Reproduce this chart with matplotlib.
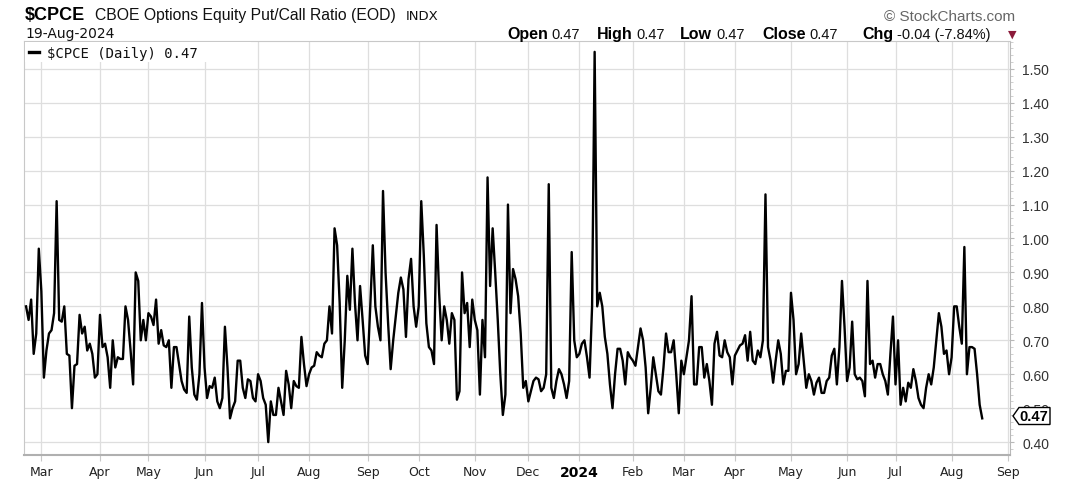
import numpy as np
import pandas as pd
import matplotlib
matplotlib.use('Agg')
import matplotlib.pyplot as plt
from matplotlib.patches import Polygon, Rectangle
from matplotlib.lines import Line2D
from matplotlib.ticker import MultipleLocator

plt.rcParams['font.family'] = ['Liberation Sans', 'DejaVu Sans']

# daily $CPCE closes, one list per month
feb_23 = [0.80, 0.76, 0.82, 0.66, 0.72, 0.97]
mar_23 = [0.845, 0.59, 0.67, 0.72, 0.73, 0.78, 1.11, 0.76, 0.755, 0.80, 0.66, 0.655,
          0.50, 0.625, 0.63, 0.775, 0.72, 0.74, 0.67, 0.69, 0.66, 0.59, 0.60]
apr_23 = [0.775, 0.68, 0.69, 0.65, 0.56, 0.70, 0.62, 0.65, 0.645, 0.645, 0.80, 0.76,
          0.67, 0.57, 0.90, 0.875, 0.70, 0.76, 0.70]
may_23 = [0.78, 0.77, 0.745, 0.82, 0.69, 0.73, 0.685, 0.68, 0.70, 0.56, 0.68, 0.68,
          0.63, 0.58, 0.555, 0.545, 0.77, 0.62, 0.54, 0.525, 0.60, 0.81]
jun_23 = [0.62, 0.53, 0.565, 0.56, 0.59, 0.52, 0.50, 0.53, 0.74, 0.62, 0.47, 0.50,
          0.52, 0.64, 0.64, 0.56, 0.53, 0.585, 0.58, 0.53, 0.52]
jul_23 = [0.60, 0.58, 0.53, 0.51, 0.40, 0.52, 0.48, 0.48, 0.56, 0.52, 0.48, 0.61,
          0.57, 0.50, 0.58, 0.565, 0.56, 0.71, 0.63, 0.565]
aug_23 = [0.60, 0.62, 0.625, 0.665, 0.655, 0.65, 0.69, 0.70, 0.80, 0.72, 1.03, 0.98,
          0.81, 0.56, 0.70, 0.89, 0.79, 0.97, 0.81, 0.70, 0.86, 0.76, 0.655]
sep_23 = [0.63, 0.80, 0.98, 0.80, 0.74, 0.70, 1.14, 0.90, 0.75, 0.615, 0.70, 0.77,
          0.84, 0.885, 0.85, 0.71, 0.88, 0.94, 0.80, 0.74]
oct_23 = [0.80, 1.11, 0.95, 0.75, 0.68, 0.67, 0.63, 1.04, 0.84, 0.70, 0.80, 0.76,
          0.69, 0.78, 0.76, 0.525, 0.55, 0.90, 0.78, 0.81, 0.68, 0.82]
nov_23 = [0.76, 0.73, 0.54, 0.76, 0.65, 1.18, 0.86, 1.03, 0.90, 0.76, 0.60, 0.48,
          0.54, 1.10, 0.78, 0.91, 0.88, 0.83, 0.72, 0.56, 0.58]
dec_23 = [0.52, 0.55, 0.58, 0.59, 0.585, 0.55, 0.56, 0.60, 1.16, 0.56, 0.53, 0.58,
          0.615, 0.60, 0.57, 0.53, 0.58, 0.96, 0.70, 0.65]
jan_24 = [0.66, 0.69, 0.70, 0.65, 0.59, 0.80, 1.55, 0.80, 0.84, 0.80, 0.71, 0.66,
          0.57, 0.50, 0.60, 0.675, 0.675, 0.64, 0.57, 0.665, 0.65]
feb_24 = [0.64, 0.625, 0.68, 0.735, 0.70, 0.62, 0.485, 0.56, 0.65, 0.60, 0.55, 0.54,
          0.62, 0.72, 0.665, 0.665, 0.70, 0.60, 0.485, 0.64]
mar_24 = [0.60, 0.65, 0.70, 0.83, 0.57, 0.57, 0.68, 0.68, 0.59, 0.63, 0.58, 0.51,
          0.69, 0.725, 0.655, 0.65, 0.70, 0.665, 0.65, 0.57]
apr_24 = [0.655, 0.67, 0.685, 0.69, 0.715, 0.64, 0.725, 0.64, 0.63, 0.67, 0.65, 0.70,
          1.13, 0.68, 0.64, 0.575, 0.64, 0.70, 0.66, 0.57, 0.61, 0.61]
may_24 = [0.84, 0.76, 0.60, 0.63, 0.72, 0.64, 0.56, 0.60, 0.58, 0.54, 0.575, 0.59,
          0.545, 0.545, 0.58, 0.59, 0.655, 0.675, 0.57, 0.68, 0.875, 0.74]
jun_24 = [0.58, 0.62, 0.755, 0.60, 0.585, 0.59, 0.58, 0.535, 0.875, 0.63, 0.64, 0.59,
          0.63, 0.63, 0.60, 0.58, 0.54, 0.66, 0.77]
jul_24 = [0.57, 0.70, 0.51, 0.56, 0.52, 0.575, 0.56, 0.615, 0.58, 0.53, 0.51, 0.50,
          0.56, 0.60, 0.57, 0.62, 0.70, 0.78, 0.74, 0.66, 0.67, 0.60]
aug_24 = [0.65, 0.80, 0.80, 0.74, 0.69, 0.975, 0.60, 0.68, 0.68, 0.675, 0.60, 0.51, 0.47]

values = (feb_23 + mar_23 + apr_23 + may_23 + jun_23 + jul_23 + aug_23 + sep_23 +
          oct_23 + nov_23 + dec_23 + jan_24 + feb_24 + mar_24 + apr_24 + may_24 +
          jun_24 + jul_24 + aug_24)

y_ticks = [0.40, 0.50, 0.60, 0.70, 0.80, 0.90, 1.00, 1.10, 1.20, 1.30, 1.40, 1.50]
last_value = 0.47
stat_names = ['Open', 'High', 'Low', 'Close', 'Chg']
stat_values = ['0.47', '0.47', '0.47', '0.47', '-0.04 (-7.84%)']

# NYSE trading calendar (the chart spaces points by trading day)
holidays = ['2023-04-07', '2023-05-29', '2023-06-19', '2023-07-04', '2023-09-04',
            '2023-11-23', '2023-12-25', '2024-01-01', '2024-01-15', '2024-02-19',
            '2024-03-29', '2024-05-27', '2024-06-19', '2024-07-04', '2024-09-02']
days = pd.bdate_range('2023-02-21', '2024-09-03', freq='C', holidays=holidays)

tick_pos, tick_lab = [], []
for i in range(1, len(days)):
    if days[i].month != days[i - 1].month:
        tick_pos.append(i)
        tick_lab.append(str(days[i].year) if days[i].month == 1 else days[i].strftime('%b'))

W, H = 1079, 481


def fx(px):
    return px / W


def fy(py):
    return 1 - py / H


fig = plt.figure(figsize=(W / 100, H / 100), dpi=100)
ax = fig.add_axes([fx(24), 25 / H, 986 / W, 414 / H])

x = np.arange(len(values))
ax.plot(x, values, color='black', lw=1.7, solid_joinstyle='round', zorder=3)

ax.set_xlim(-0.8, 385.9)
ax.set_ylim(0.362, 1.582)

ax.yaxis.tick_right()
ax.set_yticks(y_ticks)
ax.set_yticklabels(['%.2f' % v for v in y_ticks])
ax.yaxis.set_minor_locator(MultipleLocator(0.02))
ax.tick_params(axis='y', which='major', length=3, color='#b8b8b8', labelsize=10,
               labelcolor='#333333', pad=6)
ax.tick_params(axis='y', which='minor', length=2, color='#c8c8c8')

ax.set_xticks(tick_pos)
ax.set_xticklabels(tick_lab, family='DejaVu Sans')
ax.tick_params(axis='x', length=4, color='#c8c8c8', labelsize=9, labelcolor='#222222', pad=3)
for lab in ax.get_xticklabels():
    if lab.get_text() == '2024':
        lab.set_fontweight('bold')
        lab.set_fontsize(10)
        lab.set_color('black')

ax.grid(True, color='#dedede', lw=0.9)
ax.set_axisbelow(True)
for side in ['top', 'left']:
    ax.spines[side].set_color('#c8c8c8')
ax.spines['right'].set_color('#b8b8b8')
ax.spines['bottom'].set_color('#b0b0b0')
ax.spines['bottom'].set_linewidth(1.5)

# legend: white block over the top-left gridlines
ax.add_patch(Rectangle((fx(24.5), fy(63)), 226 / W, 20.5 / H, transform=fig.transFigure,
                       facecolor='white', edgecolor='none', zorder=4))
fig.add_artist(Line2D([fx(29), fx(39)], [fy(53), fy(53)], color='black', lw=2.4))
fig.text(fx(47), fy(58), '$CPCE (Daily) 0.47', fontsize=10, family='DejaVu Sans Mono',
         color='#111111', va='baseline', zorder=5)

# last value tag on the price axis
ty = fy(417)
tag = Polygon([(fx(1013), ty), (fx(1019), ty + 8.5 / H), (fx(1050), ty + 8.5 / H),
               (fx(1050), ty - 8.5 / H), (fx(1019), ty - 8.5 / H)], closed=True,
              transform=fig.transFigure, facecolor='white', edgecolor='black', lw=1.0,
              zorder=6, clip_on=False)
fig.patches.append(tag)
fig.text(fx(1034), ty, '%.2f' % last_value, fontsize=10.5, fontweight='bold', ha='center',
         va='center', zorder=7)

# header, first line
fig.text(fx(25), fy(20), '$CPCE', fontsize=13, fontweight='bold', va='baseline')
fig.text(fx(95), fy(20), 'CBOE Options Equity Put/Call Ratio (EOD)', fontsize=11.3,
         va='baseline', color='#111111')
fig.text(fx(406), fy(20), 'INDX', fontsize=9.5, family='DejaVu Sans', va='baseline',
         color='#111111')
fig.text(fx(1015), fy(21), '\u00a9 StockCharts.com', fontsize=11, ha='right',
         va='baseline', color='#666666')

# header, second line: each value sits just after its bold label
fig.text(fx(25), fy(38), '19-Aug-2024', fontsize=10, family='DejaVu Sans', va='baseline',
         color='#111111')
renderer = fig.canvas.get_renderer()
name_x = [507, 597, 680, 762, 862]
for name, val, nx in zip(stat_names, stat_values, name_x):
    t = fig.text(fx(nx), fy(39), name, fontsize=11.5, fontweight='bold', va='baseline')
    right = t.get_window_extent(renderer=renderer).x1
    fig.text(fx(right + 4), fy(39), val, fontsize=10.5, va='baseline', color='#111111')
fig.text(fx(1012), fy(35), '\u25bc', fontsize=8, family='DejaVu Sans', color='#8b1a3a',
         ha='center', va='center')

fig.savefig('out.png', dpi=100)
